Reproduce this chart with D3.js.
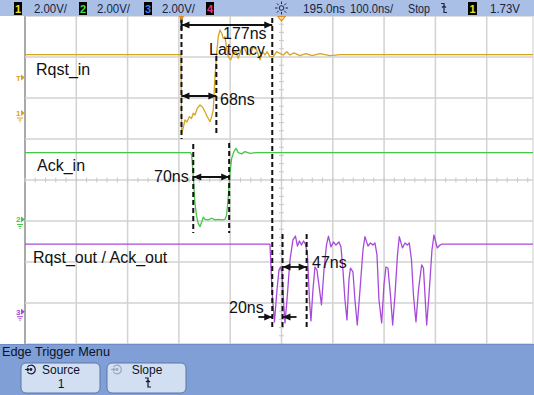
<!DOCTYPE html>
<html>
<head>
<meta charset="utf-8">
<script src="https://cdn.jsdelivr.net/npm/d3@7"></script>
<style>
  html, body { margin: 0; padding: 0; background: #fff; overflow: hidden; }
  svg { display: block; }
  text { font-family: "Liberation Sans", Arial, Helvetica, sans-serif; }
</style>
</head>
<body>
<svg id="scope" width="534" height="395"></svg>
<script>
// ---- Acquisition settings -------------------------------------------------
const timePerDiv = 100;      // ns / div
const timeDelay = 195;       // ns at screen centre
const voltsPerDiv = [2, 2, 2];
const triggerLevel = 1.73;   // V on channel 1

// ---- Header / menu texts ---------------------------------------------------
const headerScaleLabels = ["2.00V/", "2.00V/", "2.00V/"];
const headerTimeLabels = ["195.0ns", "100.0ns/"];
const runState = "Stop";
const triggerLevelLabel = "1.73V";
const menuTitle = "Edge Trigger Menu";
const softkeys = [["Source", "1"], ["Slope", ""]];

// ---- Channel names ---------------------------------------------------------
const channelNames = ["Rqst_in", "Ack_in", "Rqst_out / Ack_out"];

// ---- Waveforms: [time ns, volts] ------------------------------------------
const ch1Trace = [
  [-305, 2.85], [-1.0, 2.85], [0.4, -1.0], [3.9, -0.67], [6.8, -0.34], [10.7, -0.44],
  [15.2, -0.18], [19.5, -0.27], [23.0, -0.01], [26.3, -0.10], [30.8, 0.23], [36.1, 0.39],
  [41.3, 0.28], [45.8, 0.06], [50.3, -0.18], [55.6, -0.42], [58.9, -0.18], [62.0, 0.15],
  [65.3, 1.77], [68.6, 2.91], [71.7, 3.72], [75.0, 4.05], [78.4, 3.89], [81.5, 3.64],
  [84.8, 3.72], [88.1, 3.16], [91.2, 2.75], [95.9, 2.59], [101.0, 2.91], [105.7, 2.99],
  [110.7, 2.67], [117.3, 3.16], [121.8, 3.23], [127.1, 2.91], [133.5, 2.83], [140.0, 3.23],
  [146.6, 3.07], [153.0, 2.59], [158.3, 2.99], [162.8, 2.83], [166.7, 2.99], [172.5, 2.75],
  [178.9, 2.75], [185.6, 2.99], [192.0, 2.91], [198.4, 2.83], [205.1, 2.99], [211.5, 2.83],
  [219.3, 2.93], [231.0, 2.80], [242.7, 2.90], [254.4, 2.80], [270.0, 2.90], [289.5, 2.80],
  [310.0, 2.85], [695, 2.85]
];
const ch2Trace = [
  [-305, 3.26], [18.0, 3.26], [19.9, 3.15], [23.0, 2.09], [26.3, 0.80], [29.6, 0.14],
  [32.7, -0.19], [36.1, -0.35], [39.4, -0.12], [42.5, 0.11], [45.8, 0.01], [52.2, -0.02],
  [58.9, 0.06], [65.3, -0.02], [71.7, 0.01], [78.4, -0.02], [84.8, 0.01], [88.1, 0.22],
  [91.2, 1.11], [94.5, 2.25], [97.9, 2.99], [102.3, 3.31], [106.2, 3.47], [110.7, 3.26],
  [117.3, 3.20], [123.7, 3.31], [133.5, 3.22], [145.0, 3.26], [695, 3.26]
];
const ch3Trace = [
  [-305, 3.30], [172.5, 3.30], [176.4, 1.06], [181.3, -0.50], [186.2, 1.06], [190.1, 2.03],
  [193.0, 2.18], [195.9, 1.94], [198.8, 0.57], [201.8, -0.55], [205.7, 0.57], [211.5, 2.52],
  [217.3, 3.50], [222.2, 3.69], [226.1, 3.20], [230.0, 3.45], [233.9, 3.25], [237.8, 3.45],
  [241.7, 3.30], [245.6, 2.77], [249.5, 0.57], [252.4, -0.45], [256.3, 1.06], [260.2, 2.18],
  [264.1, 2.03], [268.0, 1.30], [272.9, 0.33], [277.8, 2.03], [282.6, 3.25], [286.5, 3.69],
  [291.4, 3.16], [296.3, 3.40], [301.1, 3.25], [307.0, 3.40], [310.9, 3.16], [314.8, 2.03],
  [318.7, 0.57], [322.6, -0.40], [326.5, 1.55], [329.4, 2.13], [334.3, 1.94], [338.2, 0.57],
  [342.7, -0.65], [348.0, 1.06], [353.8, 3.01], [357.7, 3.66], [363.6, 3.20], [368.4, 3.35],
  [373.3, 3.25], [377.2, 3.35], [381.1, 2.77], [385.0, 0.57], [390.3, -0.55], [394.7, 1.30],
  [398.6, 2.18], [402.5, 2.13], [407.4, 0.81], [411.7, -0.65], [416.2, 0.81], [421.1, 2.77],
  [424.6, 3.66], [430.8, 3.11], [435.7, 3.35], [440.2, 3.25], [444.1, 3.35], [448.4, 2.52],
  [452.2, 0.81], [457.1, -0.50], [462.0, 1.06], [468.2, 2.28], [471.7, 2.13], [474.7, 0.81],
  [478.0, -0.65], [482.5, 0.81], [488.3, 3.01], [492.2, 3.74], [498.6, 3.11], [503.9, 3.25],
  [507.8, 3.30], [695, 3.30]
];

// ---- Timing measurements (ns) ---------------------------------------------
const latencyStart = 0, latencyNs = 177;
const rqstPulseNs = 68;
const ackStart = 23, ackPulseNs = 70;
const outSetupNs = 20;
const outPulseNs = 47;

// ---- Layout ----------------------------------------------------------------
const W = 534, H = 395;
const scr = { left: 25, top: 16, divW: 51.3, divH: 41, right: 533, bottom: 344 };
const groundDiv = [1.634, -0.963, -3.212];   // channel ground positions, div from centre
const colors = ["#d6a521", "#43c843", "#a84ad9"];
const headerBg = "#a9bfe5", menuBg = "#7f9fd6", inkDark = "#1b2440";

const svg = d3.select("#scope");

const x = d3.scaleLinear()
  .domain([timeDelay - 5 * timePerDiv, timeDelay + 5 * timePerDiv])
  .range([scr.left, scr.left + 10 * scr.divW]);
const yDiv = d3.scaleLinear().domain([-4, 4]).range([scr.top + 8 * scr.divH, scr.top]);
const yCh = ch => d3.scaleLinear()
  .domain([0, voltsPerDiv[ch]])
  .range([yDiv(groundDiv[ch]), yDiv(groundDiv[ch] + 1)]);
const yScales = [0, 1, 2].map(yCh);

// ---- Graticule -------------------------------------------------------------
svg.append("rect").attr("width", W).attr("height", H).attr("fill", "#fff");
const grid = svg.append("g");
const timeGrid = d3.range(0, 11).map(i => x.domain()[0] + i * timePerDiv);
grid.selectAll("line.v").data(timeGrid).join("line")
  .attr("x1", d => x(d)).attr("x2", d => x(d))
  .attr("y1", scr.top).attr("y2", scr.bottom)
  .attr("stroke", (d, i) => i === 0 ? "#a9a9a9" : "#d2d2d2")
  .attr("stroke-width", (d, i) => i === 0 ? 2 : 1.5);
grid.append("line").attr("x1", scr.right).attr("x2", scr.right)
  .attr("y1", scr.top).attr("y2", scr.bottom).attr("stroke", "#dcdcdc").attr("stroke-width", 1.5);
grid.selectAll("line.h").data(d3.range(-4, 5)).join("line")
  .attr("x1", scr.left).attr("x2", scr.right)
  .attr("y1", d => yDiv(d)).attr("y2", d => yDiv(d))
  .attr("stroke", "#d2d2d2").attr("stroke-width", 1.5);
// minor ticks on centre lines
const minorT = d3.range(-25, 26).map(i => timeDelay + i * timePerDiv / 5).filter(t => x(t) < scr.right);
grid.selectAll("line.mt").data(minorT).join("line")
  .attr("x1", d => x(d)).attr("x2", d => x(d))
  .attr("y1", yDiv(0) - 2.5).attr("y2", yDiv(0) + 2.5)
  .attr("stroke", "#c8c8c8").attr("stroke-width", 1);
grid.selectAll("line.mv").data(d3.range(-20, 21).map(i => i / 5)).join("line")
  .attr("x1", x(timeDelay) - 2.5).attr("x2", x(timeDelay) + 2.5)
  .attr("y1", d => yDiv(d)).attr("y2", d => yDiv(d))
  .attr("stroke", "#c8c8c8").attr("stroke-width", 1);

// ---- Traces -----------------------------------------------------------------
svg.append("clipPath").attr("id", "screenClip").append("rect")
  .attr("x", scr.left).attr("y", scr.top).attr("width", scr.right - scr.left).attr("height", scr.bottom - scr.top);
const traces = svg.append("g").attr("clip-path", "url(#screenClip)");
[ch1Trace, ch2Trace, ch3Trace].forEach((data, i) => {
  traces.append("path").datum(data)
    .attr("fill", "none").attr("stroke", colors[i]).attr("stroke-width", 1.3)
    .attr("stroke-linejoin", "round")
    .attr("d", d3.line().x(d => x(d[0])).y(d => yScales[i](d[1])));
});

// ---- Channel ground and trigger markers ------------------------------------
const markers = svg.append("g");
[0, 1, 2].forEach(i => {
  const gy = yScales[i](0);
  markers.append("text").attr("x", 16).attr("y", gy + 3).attr("font-size", 8).attr("font-weight", "bold")
    .attr("fill", colors[i]).text(String(i + 1));
  markers.append("path").attr("d", `M21,${gy - 3}L25,${gy}L21,${gy + 3}Z`).attr("fill", colors[i]);
  markers.append("path").attr("d", `M17,${gy + 5}h6M18.5,${gy + 7}h3M19.5,${gy + 9}h1`)
    .attr("stroke", colors[i]).attr("stroke-width", 1);
});
const ty = yScales[0](triggerLevel);
markers.append("text").attr("x", 16).attr("y", ty + 3).attr("font-size", 8).attr("font-weight", "bold")
  .attr("fill", colors[0]).text("T");
markers.append("path").attr("d", `M21,${ty - 3}L25,${ty}L21,${ty + 3}Z`).attr("fill", colors[0]);

// ---- Channel names -----------------------------------------------------------
const nameLayout = [[36, 75], [37, 171], [33, 263]];
svg.append("g").selectAll("text").data(channelNames).join("text")
  .attr("x", (d, i) => nameLayout[i][0]).attr("y", (d, i) => nameLayout[i][1])
  .attr("font-size", 16).attr("fill", "#111").text(d => d);

// ---- Measurement cursors and arrows ----------------------------------------
const ann = svg.append("g");
const cursor = (t, y1, y2) => ann.append("line")
  .attr("x1", x(t)).attr("x2", x(t)).attr("y1", y1).attr("y2", y2)
  .attr("stroke", "#111").attr("stroke-width", 2).attr("stroke-dasharray", "5,3");
const head = (xt, y, dir) => ann.append("path")
  .attr("d", `M${xt},${y}L${xt - dir * 8},${y - 3.5}L${xt - dir * 8},${y + 3.5}Z`).attr("fill", "#111");
const span = (t0, t1, y) => {
  ann.append("line").attr("x1", x(t0)).attr("x2", x(t1)).attr("y1", y).attr("y2", y)
    .attr("stroke", "#111").attr("stroke-width", 1.8);
  head(x(t0), y, -1); head(x(t1), y, 1);
};
const label = (txt, lx, ly) => ann.append("text").attr("x", lx).attr("y", ly)
  .attr("font-size", 16).attr("fill", "#111").text(txt);

const latencyEnd = latencyStart + latencyNs;
const outA = latencyEnd + outSetupNs;
const outB = outA + outPulseNs;

cursor(latencyStart, 18, 139);
cursor(latencyStart + rqstPulseNs, 56, 136);
cursor(latencyEnd, 18, 329);
cursor(ackStart, 144, 233);
cursor(ackStart + ackPulseNs, 143, 233);
cursor(outA, 234, 329);
cursor(outB, 234, 329);

span(latencyStart, latencyEnd, 25);
ann.append("line").attr("x1", x(latencyStart)).attr("x2", x(latencyStart)).attr("y1", 20).attr("y2", 30)
  .attr("stroke", "#111").attr("stroke-width", 2);
span(latencyStart, latencyStart + rqstPulseNs, 96);
span(ackStart, ackStart + ackPulseNs, 177);
span(outA, outB, 267);
// 20 ns: arrows pointing inward from outside
ann.append("line").attr("x1", x(latencyEnd) - 14).attr("x2", x(latencyEnd)).attr("y1", 317).attr("y2", 317)
  .attr("stroke", "#111").attr("stroke-width", 1.8);
head(x(latencyEnd), 317, 1);
ann.append("line").attr("x1", x(outA) + 14).attr("x2", x(outA)).attr("y1", 317).attr("y2", 317)
  .attr("stroke", "#111").attr("stroke-width", 1.8);
head(x(outA), 317, -1);

label(latencyNs + "ns", 223, 39);
label("Latency", 209, 54.5);
label(rqstPulseNs + "ns", 220, 105);
label(ackPulseNs + "ns", 154, 182);
label(outPulseNs + "ns", 312, 268);
label(outSetupNs + "ns", 229, 313);

// ---- Top markers (trigger point and delay reference) -------------------------
svg.append("path").attr("d", `M${x(0) - 3},${scr.top}L${x(0) + 3},${scr.top}L${x(0)},${scr.top + 4}Z`)
  .attr("fill", "#f08a10");
svg.append("path").attr("d", `M${x(timeDelay) - 3.5},${scr.top + 0.5}L${x(timeDelay) + 3.5},${scr.top + 0.5}L${x(timeDelay)},${scr.top + 5}Z`)
  .attr("fill", "none").attr("stroke", "#f08a10").attr("stroke-width", 1.2);

// ---- Status header -----------------------------------------------------------
const hdr = svg.append("g");
hdr.append("rect").attr("width", W).attr("height", scr.top).attr("fill", headerBg);
const boxColors = ["#f2e21c", "#3ee03e", "#3a7cff", "#f2367a"];
const boxX = [14, 79, 144, 206];
boxColors.forEach((c, i) => {
  hdr.append("rect").attr("x", boxX[i]).attr("y", 2).attr("width", 8).attr("height", 13).attr("fill", "#000");
  hdr.append("text").attr("x", boxX[i] + 4).attr("y", 12.5).attr("text-anchor", "middle")
    .attr("font-size", 11).attr("font-weight", "bold").attr("fill", c).text(String(i + 1));
});
const hText = (txt, hx, w) => hdr.append("text").attr("x", hx).attr("y", 13).attr("font-size", 13)
  .attr("fill", inkDark).attr("textLength", w).attr("lengthAdjust", "spacingAndGlyphs").text(txt);
hText(headerScaleLabels[0], 34, 33);
hText(headerScaleLabels[1], 97, 33);
hText(headerScaleLabels[2], 162, 33);
hText(headerTimeLabels[0], 303, 42);
hText(headerTimeLabels[1], 350, 43);
hText(runState, 408, 22);
hText(triggerLevelLabel, 490, 30);
// sun (delay) icon
const sun = hdr.append("g").attr("transform", `translate(${x(timeDelay)},8)`)
  .attr("stroke", inkDark).attr("stroke-width", 1);
sun.append("circle").attr("r", 2.3).attr("fill", "none");
d3.range(8).forEach(k => {
  const a = k * Math.PI / 4;
  sun.append("line").attr("x1", Math.cos(a) * 4).attr("y1", Math.sin(a) * 4)
    .attr("x2", Math.cos(a) * 6.5).attr("y2", Math.sin(a) * 6.5);
});
// falling-edge slope symbol
const slope = (g, sx, sy, col) => g.append("path")
  .attr("d", `M${sx - 3},${sy}h3v9h3M${sx - 2},${sy + 4}l2,-1.5l2,1.5`)
  .attr("fill", "none").attr("stroke", col).attr("stroke-width", 1.2);
slope(hdr, 444, 3.5, inkDark);
hdr.append("rect").attr("x", 468).attr("y", 2).attr("width", 9).attr("height", 13).attr("fill", "#000");
hdr.append("text").attr("x", 472.5).attr("y", 12.5).attr("text-anchor", "middle")
  .attr("font-size", 11).attr("font-weight", "bold").attr("fill", boxColors[0]).text("1");

// ---- Softkey menu ------------------------------------------------------------
const menu = svg.append("g");
menu.append("rect").attr("y", scr.bottom).attr("width", W).attr("height", H - scr.bottom).attr("fill", menuBg);
menu.append("line").attr("x1", 0).attr("x2", W).attr("y1", scr.bottom + 0.5).attr("y2", scr.bottom + 0.5)
  .attr("stroke", "#6f8cc4").attr("stroke-width", 1);
menu.append("text").attr("x", 2).attr("y", 356).attr("font-size", 13).attr("fill", "#0d1226")
  .attr("textLength", 108).attr("lengthAdjust", "spacingAndGlyphs").text(menuTitle);
const keyX = [21, 107];
softkeys.forEach((k, i) => {
  const kx = keyX[i];
  menu.append("rect").attr("x", kx).attr("y", 363).attr("width", 79).attr("height", 30).attr("rx", 5)
    .attr("fill", "#d2dff3").attr("stroke", "#5f77a8").attr("stroke-width", 1);
  // rotary knob icon
  const ic = menu.append("g").attr("transform", `translate(${kx + 10},369.5)`)
    .attr("stroke", i === 0 ? "#1a1f33" : "#9aa6bd").attr("fill", "none").attr("stroke-width", 1.2);
  ic.append("path").attr("d", "M-3.5,-2.5A4.3,4.3 0 1 1 -3.5,2.5");
  ic.append("path").attr("d", "M-6,0h4M-4,-1.5l2,1.5l-2,1.5");
  ic.append("circle").attr("r", 0.8).attr("fill", i === 0 ? "#1a1f33" : "#9aa6bd");
  menu.append("text").attr("x", kx + 40).attr("y", 374).attr("text-anchor", "middle")
    .attr("font-size", 12).attr("fill", "#0d1226").text(k[0]);
  if (k[1]) menu.append("text").attr("x", kx + 40).attr("y", 388).attr("text-anchor", "middle")
    .attr("font-size", 12).attr("fill", "#0d1226").text(k[1]);
});
slope(menu, 148, 378, "#0d1226");
</script>
</body>
</html>
